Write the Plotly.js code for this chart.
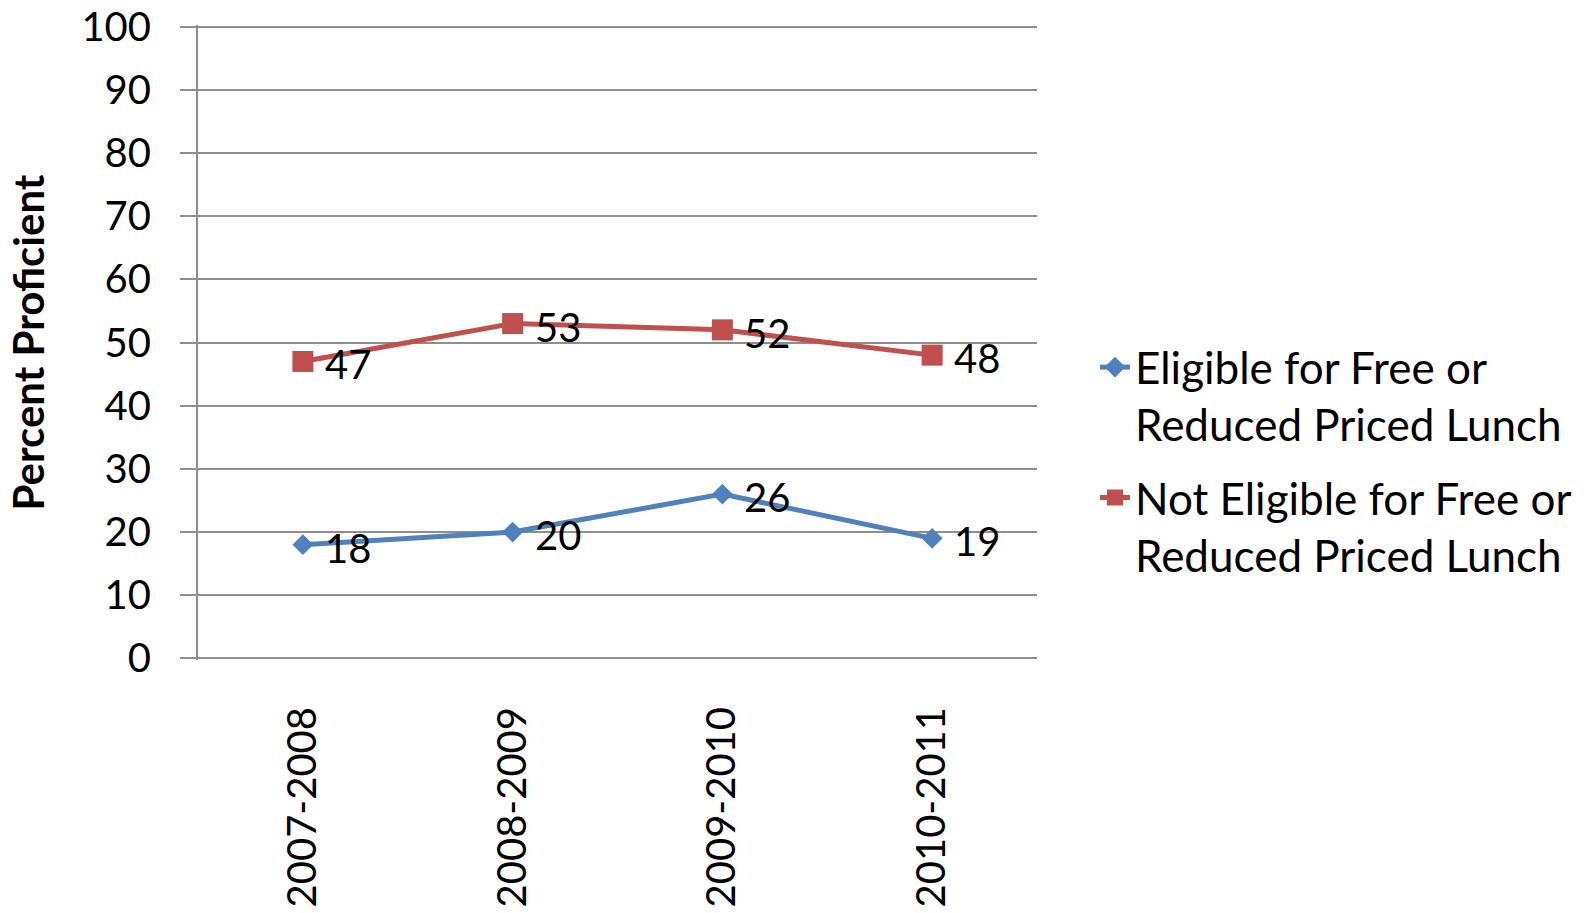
<!DOCTYPE html>
<html>
<head>
<meta charset="utf-8">
<script src="https://cdn.plot.ly/plotly-3.0.1.min.js"></script>
<style>html,body{margin:0;padding:0;background:#fff;}#chart{width:1592px;height:913px;}</style>
</head>
<body>
<div id="chart"></div>
<script>
const years = ["2007-2008", "2008-2009", "2009-2010", "2010-2011"];
const eligible = [18, 20, 26, 19];
const notEligible = [47, 53, 52, 48];
const seriesNames = ["Eligible for Free or<br>Reduced Priced Lunch", "Not Eligible for Free or<br>Reduced Priced Lunch"];
const yTicks = [0, 10, 20, 30, 40, 50, 60, 70, 80, 90, 100];

const FONT = "Lato, 'Open Sans', sans-serif";
const BLUE = "#4F81BD";
const RED = "#C0504D";
const GRID = "#8e8e8e";

const traces = [
  {
    x: years, y: eligible, name: seriesNames[0], type: "scatter", mode: "lines+markers",
    line: {color: BLUE, width: 5},
    marker: {symbol: "diamond", size: 16, color: BLUE},
    legendgroup: "a"
  },
  {
    x: years, y: notEligible, name: seriesNames[1], type: "scatter", mode: "lines+markers",
    line: {color: RED, width: 5},
    marker: {symbol: "square", size: 21, color: RED},
    legendgroup: "b"
  }
];

const annotations = [];
[eligible, notEligible].forEach(function (arr) {
  arr.forEach(function (v, i) {
    annotations.push({
      x: years[i], y: v, xref: "x", yref: "y", text: String(v),
      showarrow: false, xanchor: "left", yanchor: "middle",
      xshift: 20, yshift: -3,
      font: {family: FONT, size: 40, color: "#000"}
    });
  });
});

const layout = {
  width: 1592, height: 913,
  margin: {l: 198, r: 555, t: 25, b: 253},
  paper_bgcolor: "#fff", plot_bgcolor: "#fff",
  font: {family: FONT, color: "#000"},
  showlegend: true,
  legend: {
    xref: "container", yref: "container",
    x: 1095 / 1592, y: 1 - 332 / 913, xanchor: "left", yanchor: "top",
    font: {family: FONT, size: 44, color: "#000"},
    valign: "top", tracegroupgap: 13, traceorder: "grouped",
    bgcolor: "rgba(0,0,0,0)"
  },
  xaxis: {
    type: "category", categoryorder: "array", categoryarray: years,
    range: [-0.5, 3.5],
    tickangle: -90, ticks: "", ticklabelstandoff: 38,
    tickfont: {family: FONT, size: 40, color: "#000"},
    showgrid: false, showline: false, zeroline: false, fixedrange: true,
    automargin: false
  },
  yaxis: {
    range: [-0.25, 100.25], tickvals: yTicks, ticktext: yTicks.map(String),
    ticks: "outside", ticklen: 16, tickwidth: 2, tickcolor: GRID,
    ticklabelstandoff: 21,
    tickfont: {family: FONT, size: 40, color: "#000"},
    showgrid: true, gridcolor: GRID, gridwidth: 2,
    showline: true, linecolor: GRID, linewidth: 2,
    zeroline: false,
    title: {text: "Percent Proficient", font: {family: FONT, size: 42, color: "#000", weight: "bold"}, standoff: 24},
    automargin: "left"
  },
  annotations: annotations
};

Plotly.newPlot("chart", traces, layout, {displayModeBar: false, staticPlot: true});
</script>
</body>
</html>
